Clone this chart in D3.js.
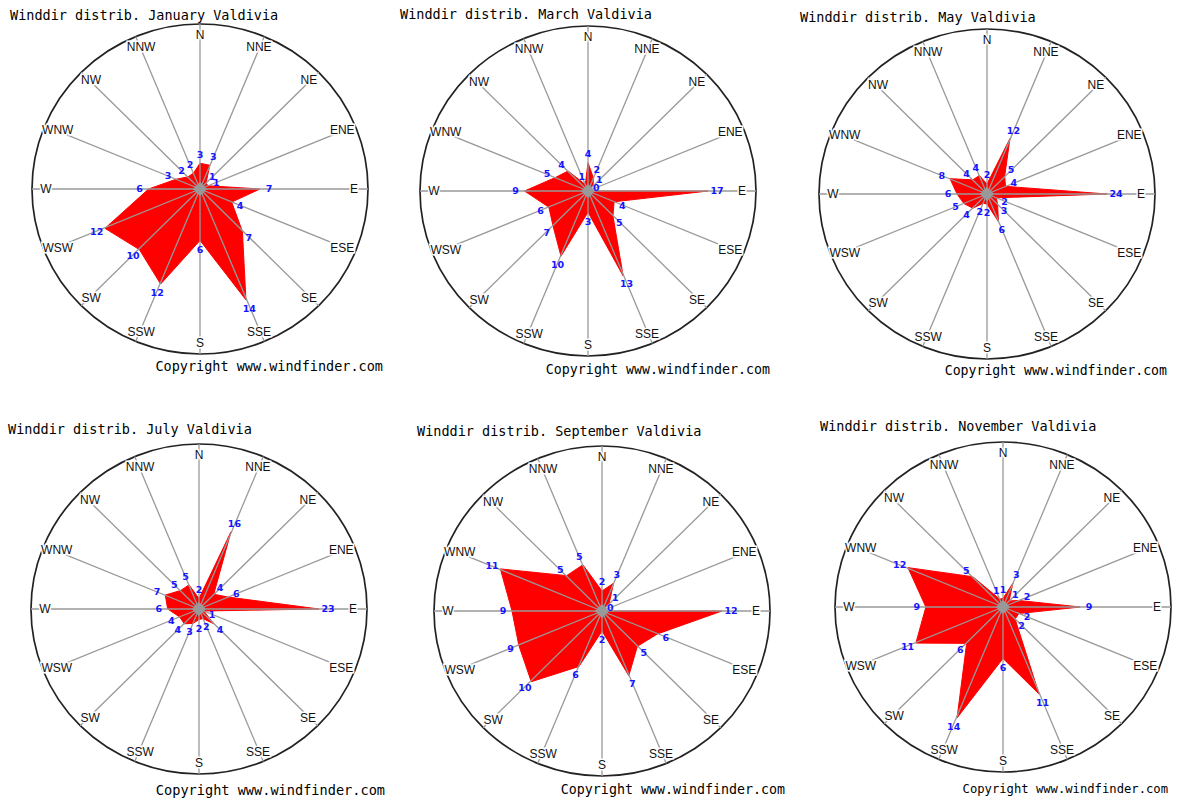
<!DOCTYPE html>
<html>
<head>
<meta charset="utf-8">
<script src="https://cdn.jsdelivr.net/npm/d3@7"></script>
<style>
  body { margin: 0; background: #fff; }
  svg { display: block; }
</style>
</head>
<body>
<svg id="svg1" width="1187" height="800"></svg>
<script>
// direction labels, clockwise from north
var dirs = ["N", "NNE", "NE", "ENE", "E", "ESE", "SE", "SSE",
            "S", "SSW", "SW", "WSW", "W", "WNW", "NW", "NNW"];

var months = ["January", "March", "May", "July", "September", "November"];

// percentage of wind per direction, same order as dirs
var janVals = [3, 3, 1, 1, 7, 4, 7, 14, 6, 12, 10, 12, 6, 3, 2, 2];
var marVals = [4, 2, 1, 0, 17, 4, 5, 13, 3, 10, 7, 6, 9, 5, 4, 1];
var mayVals = [2, 12, 5, 4, 24, 2, 3, 6, 2, 2, 4, 5, 6, 8, 4, 4];
var julVals = [2, 16, 4, 6, 23, 1, 4, 2, 2, 3, 4, 4, 6, 7, 5, 5];
var sepVals = [2, 3, 1, 0, 12, 6, 5, 7, 2, 6, 10, 9, 9, 11, 5, 5];
var novVals = [1, 3, 1, 2, 9, 2, 2, 11, 6, 14, 6, 11, 9, 12, 5, 1];

var allVals = [janVals, marVals, mayVals, julVals, sepVals, novVals];

// where each little chart sits on the page (cpx = right end of copyright)
var panels = [
    {cx: 200, cy: 189, tx: 10,  ty: 20,  cpx: 383,  cpy: 371, cps: 13.5},
    {cx: 588, cy: 191, tx: 400, ty: 19,  cpx: 770,  cpy: 374, cps: 13.3},
    {cx: 987, cy: 194, tx: 800, ty: 22,  cpx: 1167, cpy: 375, cps: 13.2},
    {cx: 199, cy: 609, tx: 8,   ty: 434, cpx: 385,  cpy: 795, cps: 13.6},
    {cx: 602, cy: 611, tx: 417, ty: 436, cpx: 785,  cpy: 794, cps: 13.3},
    {cx: 1003, cy: 607, tx: 820, ty: 431, cpx: 1168, cpy: 793, cps: 12.2}
];

var svg = d3.select("#svg1");
var rx = 168, ry = 165;      // outer ring
var labelR = 154;            // direction names
var maxR = 120;              // largest value reaches this radius
var step = 2 * Math.PI / dirs.length;

function plotRose(p, vals, month) {
    var g = svg.append("g").attr("transform", "translate(" + p.cx + "," + p.cy + ")");
    var r = d3.scaleLinear().domain([0, d3.max(vals)]).range([0, maxR]);

    // title
    svg.append("text")
        .attr("x", p.tx).attr("y", p.ty)
        .attr("font-family", "DejaVu Sans Mono").attr("font-size", 13.5)
        .attr("fill", "#000")
        .text("Winddir distrib. " + month + " Valdivia");

    // ring
    g.append("ellipse")
        .attr("rx", rx).attr("ry", ry)
        .attr("fill", "none").attr("stroke", "#222").attr("stroke-width", 1.7);

    // red area
    var line = d3.lineRadial()
        .angle(function(d, i) { return i * step; })
        .radius(function(d) { return r(d); })
        .curve(d3.curveLinearClosed);
    g.append("path")
        .attr("d", line(vals))
        .attr("fill", "#ff0000").attr("stroke", "#ff0000").attr("stroke-width", 1);

    // spokes
    g.selectAll("line.spoke")
        .data(dirs)
        .enter()
        .append("line")
        .attr("class", "spoke")
        .attr("x1", 0).attr("y1", 0)
        .attr("x2", function(d, i) { return rx * Math.sin(i * step); })
        .attr("y2", function(d, i) { return -ry * Math.cos(i * step); })
        .attr("stroke", "#999").attr("stroke-width", 1.3);

    // centre diamond
    g.append("rect")
        .attr("x", -5).attr("y", -5).attr("width", 10).attr("height", 10)
        .attr("transform", "rotate(45)")
        .attr("fill", "#999");

    // direction names
    g.selectAll("text.dir")
        .data(dirs)
        .enter()
        .append("text")
        .attr("class", "dir")
        .attr("x", function(d, i) { return labelR * Math.sin(i * step); })
        .attr("y", function(d, i) { return -labelR * Math.cos(i * step); })
        .attr("dy", "0.36em")
        .attr("text-anchor", "middle")
        .attr("font-family", "Liberation Sans").attr("font-size", 12)
        .attr("fill", "#111")
        .attr("stroke", "#fff").attr("stroke-width", 3).attr("paint-order", "stroke")
        .text(function(d) { return d; });

    // value labels
    g.selectAll("text.val")
        .data(vals)
        .enter()
        .append("text")
        .attr("class", "val")
        .attr("x", function(d, i) { return (r(d) + 9) * Math.sin(i * step); })
        .attr("y", function(d, i) { return -(r(d) + 9) * Math.cos(i * step); })
        .attr("dy", "0.35em")
        .attr("text-anchor", "middle")
        .attr("font-family", "DejaVu Sans").attr("font-size", 9.5).attr("font-weight", "bold")
        .attr("fill", "#1515ff")
        .text(function(d) { return d; });

    // copyright
    svg.append("text")
        .attr("x", p.cpx).attr("y", p.cpy)
        .attr("text-anchor", "end")
        .attr("font-family", "DejaVu Sans Mono").attr("font-size", p.cps)
        .attr("fill", "#000")
        .text("Copyright www.windfinder.com");
}

for (var k = 0; k < panels.length; k++) {
    plotRose(panels[k], allVals[k], months[k]);
}
</script>
</body>
</html>
